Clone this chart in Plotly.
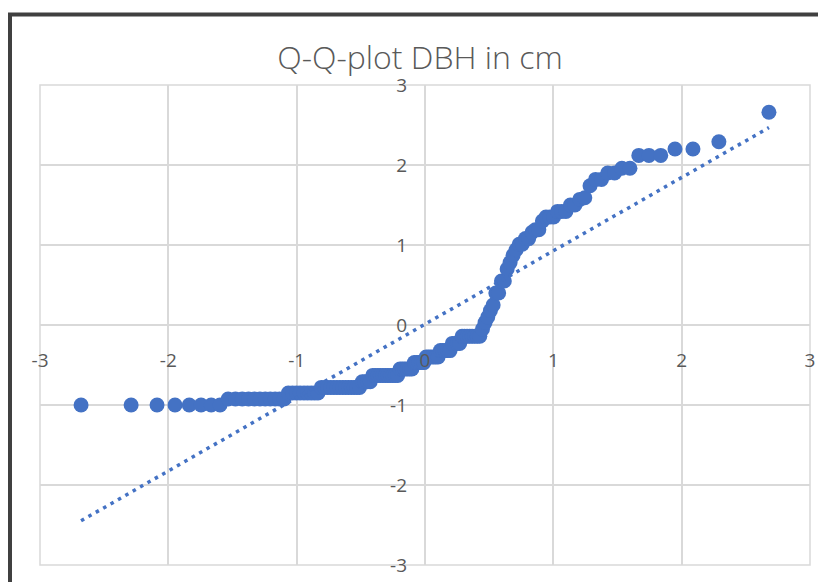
import plotly.graph_objects as go

# Theoretical normal quantiles (x) and standardised DBH sample values (y), sorted
theoretical_q = [
    -2.680, -2.290, -2.088, -1.948, -1.837, -1.745, -1.666, -1.597, -1.534, -1.477,
    -1.424, -1.375, -1.329, -1.286, -1.245, -1.206, -1.168, -1.133, -1.098, -1.065,
    -1.033, -1.002, -0.973, -0.943, -0.915, -0.887, -0.860, -0.834, -0.808, -0.783,
    -0.758, -0.734, -0.710, -0.686, -0.663, -0.640, -0.618, -0.596, -0.574, -0.552,
    -0.531, -0.510, -0.489, -0.468, -0.448, -0.427, -0.407, -0.387, -0.367, -0.348,
    -0.328, -0.308, -0.289, -0.270, -0.251, -0.232, -0.213, -0.195, -0.176, -0.157,
    -0.139, -0.120, -0.102, -0.083, -0.065, -0.046, -0.028, -0.009,
    0.009, 0.028, 0.046, 0.065, 0.083, 0.102, 0.120, 0.139, 0.157, 0.176,
    0.195, 0.213, 0.232, 0.251, 0.270, 0.289, 0.308, 0.328, 0.348, 0.367,
    0.387, 0.407, 0.427, 0.448, 0.468, 0.489, 0.510, 0.531, 0.552, 0.574,
    0.596, 0.618, 0.640, 0.663, 0.686, 0.710, 0.734, 0.758, 0.783, 0.808,
    0.834, 0.860, 0.887, 0.915, 0.943, 0.973, 1.002, 1.033, 1.065, 1.098,
    1.133, 1.168, 1.206, 1.245, 1.286, 1.329, 1.375, 1.424, 1.477, 1.534,
    1.597, 1.666, 1.745, 1.837, 1.948, 2.088, 2.290, 2.680,
]

sample_z = [
    -1.00, -1.00, -1.00, -1.00, -1.00, -1.00, -1.00, -1.00, -0.925, -0.925,
    -0.925, -0.925, -0.925, -0.925, -0.925, -0.925, -0.925, -0.925, -0.925, -0.85,
    -0.85, -0.85, -0.85, -0.85, -0.85, -0.85, -0.85, -0.85, -0.78, -0.78,
    -0.78, -0.78, -0.78, -0.78, -0.78, -0.78, -0.78, -0.78, -0.78, -0.78,
    -0.78, -0.78, -0.71, -0.71, -0.71, -0.71, -0.63, -0.63, -0.63, -0.63,
    -0.63, -0.63, -0.63, -0.63, -0.63, -0.63, -0.63, -0.55, -0.55, -0.55,
    -0.55, -0.55, -0.55, -0.47, -0.47, -0.47, -0.47, -0.47,
    -0.40, -0.40, -0.40, -0.40, -0.40, -0.40, -0.32, -0.32, -0.32, -0.32,
    -0.32, -0.23, -0.23, -0.23, -0.23, -0.14, -0.14, -0.14, -0.14, -0.14,
    -0.14, -0.14, -0.14, -0.05, 0.03, 0.10, 0.18, 0.25, 0.40, 0.40,
    0.55, 0.55, 0.70, 0.78, 0.87, 0.94, 1.01, 1.01, 1.08, 1.08,
    1.16, 1.19, 1.19, 1.30, 1.35, 1.35, 1.35, 1.42, 1.42, 1.42,
    1.50, 1.50, 1.57, 1.59, 1.74, 1.82, 1.82, 1.90, 1.90, 1.96,
    1.96, 2.12, 2.12, 2.12, 2.20, 2.20, 2.29, 2.66,
]

# Linear trendline of the Q-Q points
trend_slope = 0.917
trend_intercept = 0.01

axis_ticks = [-3, -2, -1, 0, 1, 2, 3]
axis_tick_labels = ["-3", "-2", "-1", "0", "1", "2", "3"]

BLUE = "#4472C4"
GRID = "#d9d9d9"
TEXT = "#595959"

x_lo, x_hi = min(theoretical_q), max(theoretical_q)
trend_x = [x_lo, x_hi]
trend_y = [trend_slope * v + trend_intercept for v in trend_x]

fig = go.Figure()
fig.add_trace(go.Scatter(
    x=theoretical_q, y=sample_z, mode="markers",
    marker=dict(size=15, color=BLUE, line=dict(width=0)),
    showlegend=False, hoverinfo="x+y",
))
fig.add_trace(go.Scatter(
    x=trend_x, y=trend_y, mode="lines",
    line=dict(color=BLUE, width=3.5, dash="3.5px,5px"),
    showlegend=False, hoverinfo="skip",
))

W, H = 818, 582
ML, MR, MT, MB = 40, 8, 85, 17
pw, ph = W - ML - MR, H - MT - MB


def px_x(p):
    return (p - ML) / pw


def px_y(p):
    return (H - MB - p) / ph


tick_font = dict(family="Open Sans, sans-serif", size=19, color=TEXT)
axis_common = dict(
    range=[-3, 3], tickmode="array", tickvals=axis_ticks, ticktext=axis_tick_labels,
    showgrid=True, gridcolor=GRID, gridwidth=1.5, zeroline=False, showline=False,
    anchor="free", position=0.5, tickfont=tick_font, fixedrange=True,
    automargin=False,
)

fig.update_layout(
    width=W, height=H,
    margin=dict(l=ML, r=MR, t=MT, b=MB, autoexpand=False),
    paper_bgcolor="white", plot_bgcolor="white",
    title=dict(
        text="Q-Q-plot DBH in cm",
        x=420 / W, xanchor="center", y=1 - 58 / H, yanchor="middle",
        xref="container", yref="container", automargin=False,
        font=dict(family="Open Sans, sans-serif", size=32, color=TEXT, weight=300),
    ),
    xaxis=dict(**axis_common, ticklabelstandoff=22),
    yaxis=dict(**axis_common, ticklabelstandoff=18),
    shapes=[
        # plot-area border
        dict(type="rect", xref="paper", yref="paper", x0=0, x1=1, y0=0, y1=1,
             line=dict(color=GRID, width=1.5), layer="below"),
        # chart frame (left and top edges)
        dict(type="line", xref="paper", yref="paper",
             x0=px_x(10), x1=px_x(10), y0=px_y(14.5), y1=px_y(600),
             line=dict(color="#404040", width=4)),
        dict(type="line", xref="paper", yref="paper",
             x0=px_x(8), x1=px_x(830), y0=px_y(14.5), y1=px_y(14.5),
             line=dict(color="#404040", width=4)),
    ],
)

fig.write_html("out.html")
